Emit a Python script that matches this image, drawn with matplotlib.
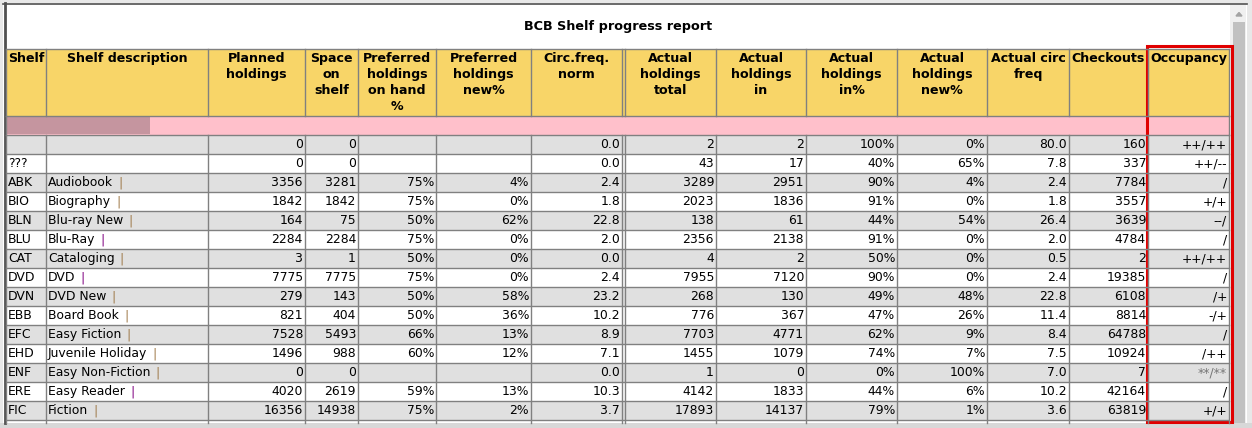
import matplotlib
matplotlib.use('Agg')
import matplotlib.pyplot as plt
from matplotlib.patches import Rectangle

#table content
title = "BCB Shelf progress report"
headers = ["Shelf", "Shelf description", "Planned\nholdings", "Space\non\nshelf", "Preferred\nholdings\non hand\n%",
           "Preferred\nholdings\nnew%", "Circ.freq.\nnorm", "Actual\nholdings\ntotal", "Actual\nholdings\nin",
           "Actual\nholdings\nin%", "Actual\nholdings\nnew%", "Actual circ\nfreq", "Checkouts", "Occupancy"]

shelf = ["", "???", "ABK", "BIO", "BLN", "BLU", "CAT", "DVD", "DVN", "EBB", "EFC", "EHD", "ENF", "ERE", "FIC"]
description = ["", "", "Audiobook", "Biography", "Blu-ray New", "Blu-Ray", "Cataloging", "DVD", "DVD New",
               "Board Book", "Easy Fiction", "Juvenile Holiday", "Easy Non-Fiction", "Easy Reader", "Fiction"]
pipe_purple = ["Blu-Ray", "DVD", "Easy Reader"]
planned = [0, 0, 3356, 1842, 164, 2284, 3, 7775, 279, 821, 7528, 1496, 0, 4020, 16356]
space = [0, 0, 3281, 1842, 75, 2284, 1, 7775, 143, 404, 5493, 988, 0, 2619, 14938]
pref_onhand = ["", "", "75%", "75%", "50%", "75%", "50%", "75%", "50%", "50%", "66%", "60%", "", "59%", "75%"]
pref_new = ["", "", "4%", "0%", "62%", "0%", "0%", "0%", "58%", "36%", "13%", "12%", "", "13%", "2%"]
circ_norm = [0.0, 0.0, 2.4, 1.8, 22.8, 2.0, 0.0, 2.4, 23.2, 10.2, 8.9, 7.1, 0.0, 10.3, 3.7]
act_total = [2, 43, 3289, 2023, 138, 2356, 4, 7955, 268, 776, 7703, 1455, 1, 4142, 17893]
act_in = [2, 17, 2951, 1836, 61, 2138, 2, 7120, 130, 367, 4771, 1079, 0, 1833, 14137]
act_in_pct = [100, 40, 90, 91, 44, 91, 50, 90, 49, 47, 62, 74, 0, 44, 79]
act_new_pct = [0, 65, 4, 0, 54, 0, 0, 0, 48, 26, 9, 7, 100, 6, 1]
act_circ = [80.0, 7.8, 2.4, 1.8, 26.4, 2.0, 0.5, 2.4, 22.8, 11.4, 8.4, 7.5, 7.0, 10.2, 3.6]
checkouts = [160, 337, 7784, 3557, 3639, 4784, 2, 19385, 6108, 8814, 64788, 10924, 7, 42164, 63819]
occupancy = ["++/++", "++/--", "/", "+/+", "--/", "/", "++/++", "/", "/+", "-/+", "/", "/++", "**/**", "/", "+/+"]

#layout (pixels)
W, H = 1252, 428
lefts = [6, 46, 208, 305, 358, 436, 531, 625, 716, 806, 897, 987, 1069, 1148]
rights = [46, 208, 305, 358, 436, 531, 622, 716, 806, 897, 987, 1069, 1148, 1229]
head_top, head_bot, pink_bot, row_h = 48.5, 115.5, 134.7, 19.0
grid = "#808080"
fs = 8.9

fig = plt.figure(figsize=(W / 100, H / 100), dpi=100)
fig.patch.set_facecolor("#e8e8e8")
ax = fig.add_axes([0, 0, 1, 1])
ax.set_xlim(0, W)
ax.set_ylim(H, 0)
ax.axis("off")
renderer = fig.canvas.get_renderer()

#frame, white page, scrollbar
ax.add_patch(Rectangle((3, 3), 1244, 420, facecolor="white", edgecolor="none"))
ax.plot([4.5, 4.5], [3, 423], color="#505050", lw=2)
ax.plot([3, 1247], [4, 4], color="#505050", lw=1.2)
ax.add_patch(Rectangle((1230, 5), 16, 418, facecolor="#f0f0f0", edgecolor="none"))
ax.add_patch(Rectangle((1233, 22), 12, 401, facecolor="#c1c1c1", edgecolor="none"))
ax.fill([1236, 1239, 1242], [16, 12.5, 16], color="#a3a3a3")
ax.add_patch(Rectangle((0, 423), W, 5, facecolor="#d8d8d8", edgecolor="none"))

ax.text(618, 26, title, ha="center", va="center", fontsize=9.2, fontweight="bold", color="black")

#header row
ax.add_patch(Rectangle((6, head_top), 1223, head_bot - head_top, facecolor="#f8d568", edgecolor="none"))
for i, h in enumerate(headers):
    cx = (lefts[i] + rights[i]) / 2
    for j, line in enumerate(h.split("\n")):
        ax.text(cx, 58.5 + 15.9 * j, line, ha="center", va="center", fontsize=9.1, fontweight="bold", color="black")

#pink filter row (no inner borders)
ax.add_patch(Rectangle((6, head_bot), 1223, pink_bot - head_bot, facecolor="#ffc0cb", edgecolor="none"))
ax.add_patch(Rectangle((7, head_bot + 1), 143, pink_bot - head_bot - 1.5, facecolor="#c5959f", edgecolor="none"))

#data rows
n = len(shelf)
for r in range(n + 1):
    y0 = pink_bot + r * row_h
    hgt = row_h if r < n else 423 - y0
    fc = "#e0e0e0" if r % 2 == 0 and r < n else "white"
    ax.add_patch(Rectangle((6, y0), 1223, hgt, facecolor=fc, edgecolor="none"))
    ax.plot([6, 1229], [y0, y0], color=grid, lw=1)
    if r == n:
        break
    yc = y0 + row_h / 2 + 0.5
    cells = [shelf[r], description[r], planned[r], space[r], pref_onhand[r], pref_new[r],
             "%.1f" % circ_norm[r], act_total[r], act_in[r], "%d%%" % act_in_pct[r],
             "%d%%" % act_new_pct[r], "%.1f" % act_circ[r], checkouts[r], occupancy[r]]
    for c, val in enumerate(cells):
        if c < 2:
            t = ax.text(lefts[c] + 2, yc, str(val), ha="left", va="center", fontsize=fs, color="black")
            #coloured pipe after the description
            if c == 1 and val:
                bb = t.get_window_extent(renderer)
                xend = ax.transData.inverted().transform((bb.x1, 0))[0]
                pc = "#800080" if val in pipe_purple else "#a07a4a"
                ax.text(xend + 5, yc, "|", ha="left", va="center", fontsize=fs, color=pc)
        else:
            col = "#777777" if val == "**/**" else "black"
            ax.text(rights[c] - 2, yc, str(val), ha="right", va="center", fontsize=fs, color=col)

#grid lines: header block and data block, none across the pink row
for x in [6] + rights:
    ax.plot([x, x], [head_top, head_bot], color=grid, lw=1)
for x in [6] + rights + [625]:
    ax.plot([x, x], [pink_bot, 423], color=grid, lw=1)
ax.plot([625, 625], [head_top, head_bot], color=grid, lw=1)
ax.plot([6, 1229], [head_top, head_top], color=grid, lw=1)
ax.plot([6, 1229], [head_bot, head_bot], color=grid, lw=1)
ax.plot([6, 6], [head_bot, pink_bot], color=grid, lw=1)
ax.plot([1229, 1229], [head_bot, pink_bot], color=grid, lw=1)

#red highlight around occupancy column
ax.add_patch(Rectangle((1147, 46), 85, 376, facecolor="none", edgecolor="#e00000", lw=2.2))

fig.savefig("out.png", dpi=100)
